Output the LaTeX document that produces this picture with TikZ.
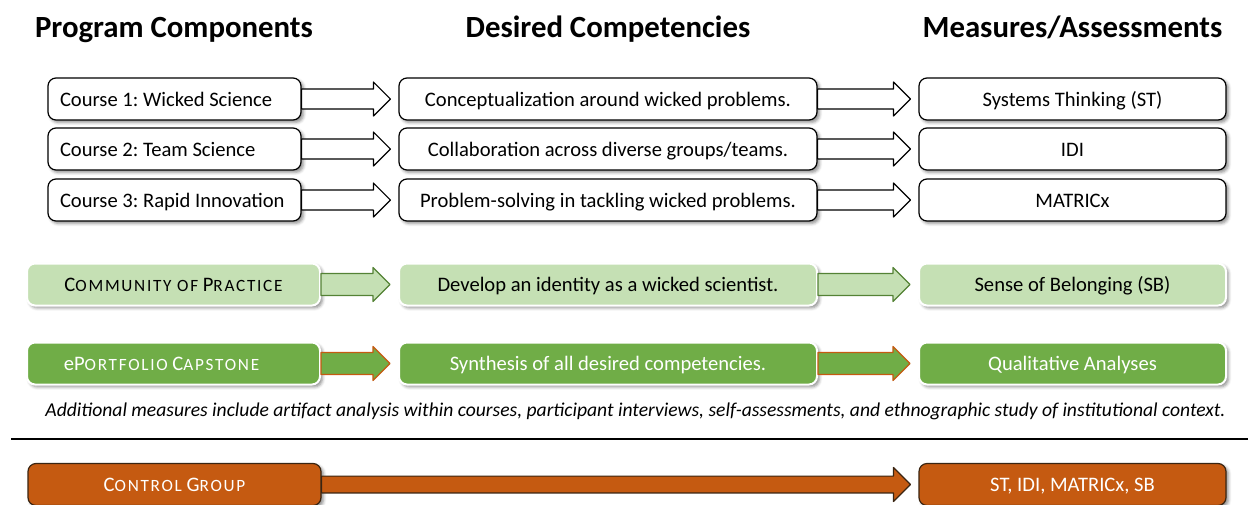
\documentclass[tikz,border=0pt]{standalone}
\usepackage{fontspec}
\setmainfont{Carlito}
\usetikzlibrary{calc,shadows.blur}
\definecolor{lgreen}{HTML}{C5E0B4}
\definecolor{mgreen}{HTML}{70AD47}
\definecolor{dgreen}{HTML}{548235}
\definecolor{rust}{HTML}{C55A11}
\definecolor{rustline}{HTML}{3A2512}
\frenchspacing

\begin{document}
\begin{tikzpicture}[x=0.5pt,y=-0.5pt,font=\fontsize{10.3}{12}\selectfont,line join=round,
	shade/.style={blur shadow={shadow xshift=1.2pt,shadow yshift=-1.2pt,shadow blur radius=1.5pt,shadow opacity=45}},
	box/.style={draw=black,line width=0.6pt,rounded corners=4pt,fill=white,minimum height=21pt,inner sep=0pt,
		text height=7.5pt,text depth=0.5pt,shade},
	course/.style={box,minimum width=126.5pt},
	goal/.style={box,minimum width=209pt},
	meas/.style={box,minimum width=153.5pt},
	cop/.style={box,draw=white,line width=1pt,fill=lgreen},
	port/.style={box,draw=white,line width=1pt,fill=mgreen,text=white},
	ctrl/.style={box,draw=rustline,fill=rust,text=white},
	head/.style={anchor=base,font=\bfseries\fontsize{15.4}{18}\selectfont}]
	\def\smc#1{{\fontsize{8.6}{10}\selectfont\addfontfeature{LetterSpace=10}#1}}
	\def\lft#1{\makebox[114.5pt][l]{#1}}
	% block arrow from the east side of #2 to just short of the west side of #3
	\def\barrow#1#2#3#4{\draw[line width=0.6pt,#1] let \p1=(#2.east), \p2=(#3.west) in
		(\x1,\y1+#4)--(\x2-12.5pt,\y1+#4)--(\x2-12.5pt,\y1+8.5pt)--(\x2-4pt,\y1)
		--(\x2-12.5pt,\y1-8.5pt)--(\x2-12.5pt,\y1-#4)--(\x1,\y1-#4)--cycle;}
	\useasboundingbox (0,0) rectangle (1248,504);

	\node[head] (hprog) at (174,37) {Program Components};
	\node[head] (hcomp) at (608,37) {Desired Competencies};
	\node[head] (hmeas) at (1072.5,37) {Measures/Assessments};

	% the three courses
	\node[course] (c1) at (174.5,99) {\lft{Course 1: Wicked Science}};
	\node[course] (c2) at (174.5,149) {\lft{Course 2: Team Science}};
	\node[course] (c3) at (174.5,200) {\lft{Course 3: Rapid Innovation}};
	\node[goal] (g1) at (608,99) {Conceptualization around wicked problems.};
	\node[goal] (g2) at (608,149) {Collaboration across diverse groups/teams.};
	\node[goal] (g3) at (608,200) {Problem-solving in tackling wicked problems.};
	\node[meas] (m1) at (1072.5,99) {Systems Thinking (ST)};
	\node[meas] (m2) at (1072.5,149) {IDI};
	\node[meas] (m3) at (1072.5,200) {MATRICx};
	\foreach \r in {1,2,3}{
		\barrow{fill=white}{c\r}{g\r}{5pt}
		\barrow{fill=white}{g\r}{m\r}{5pt}}

	% community of practice and capstone
	\node[cop,minimum width=146.5pt] (cp) at (173.5,284.5) {C\smc{OMMUNITY OF} P\smc{RACTICE}};
	\node[cop,minimum width=209pt] (cpg) at (608,284.5) {Develop an identity as a wicked scientist.};
	\node[cop,minimum width=153.5pt] (cpm) at (1072.5,284.5) {Sense of Belonging (SB)};
	\barrow{fill=lgreen,draw=dgreen}{cp}{cpg}{5.5pt}
	\barrow{fill=lgreen,draw=dgreen}{cpg}{cpm}{5.5pt}

	\node[port,minimum width=146.5pt] (ep) at (173.5,363.5) {eP\smc{ORTFOLIO} C\smc{APSTONE}\kern12pt};
	\node[port,minimum width=209pt] (epg) at (608,363.5) {Synthesis of all desired competencies.};
	\node[port,minimum width=153.5pt] (epm) at (1072.5,363.5) {Qualitative Analyses};
	\barrow{fill=mgreen,draw=rust}{ep}{epg}{5.5pt}
	\barrow{fill=mgreen,draw=rust}{epg}{epm}{5.5pt}

	\node[anchor=east,inner sep=0pt,font=\itshape\fontsize{9.8}{12}\selectfont] (note) at (1226,411)
		{Additional measures include artifact analysis within courses, participant interviews, self-assessments, and ethnographic study of institutional context.};
	\draw[line width=1pt] (11,439)--(1248,439);

	% control group
	\node[ctrl,minimum width=146.5pt] (cg) at (174.5,484.5) {C\smc{ONTROL} G\smc{ROUP}};
	\node[ctrl,minimum width=153.5pt] (cgm) at (1072.5,484.5) {ST, IDI, MATRICx, SB};
	\barrow{fill=rust,draw=rustline}{cg}{cgm}{4.2pt}
\end{tikzpicture}
\end{document}
